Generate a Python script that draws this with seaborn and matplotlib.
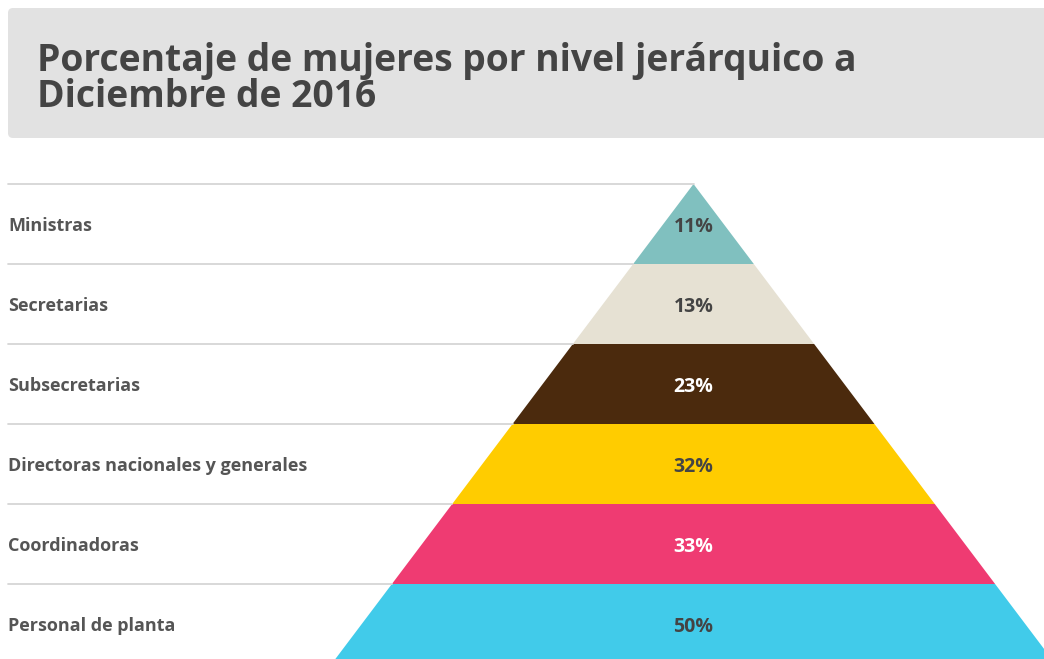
import matplotlib.pyplot as plt
import seaborn as sns
from matplotlib.patches import FancyBboxPatch

# data
niveles = ['Ministras', 'Secretarias', 'Subsecretarias',
           'Directoras nacionales y generales', 'Coordinadoras', 'Personal de planta']
porcentajes = [11, 13, 23, 32, 33, 50]
colores = ['#80c0bf', '#e6e1d3', '#4b2a0d', '#ffcc00', '#ef3b72', '#41cbea']
color_texto = ['#444444', '#444444', '#ffffff', '#444444', '#ffffff', '#444444']
titulo = ['Porcentaje de mujeres por nivel jerárquico a', 'Diciembre de 2016']

sns.set_theme(style='white')
plt.rcParams['font.family'] = ['Open Sans', 'DejaVu Sans']

fig = plt.figure(figsize=(10.44, 6.59), dpi=100)
ax = fig.add_axes([0, 0, 1, 1])
ax.set_xlim(0, 1044)
ax.set_ylim(659, 0)
ax.axis('off')

# title box
caja = FancyBboxPatch((8, 8), 1060, 130, boxstyle='round,pad=0,rounding_size=5',
                      facecolor='#e2e2e2', edgecolor='none')
ax.add_patch(caja)
for k, linea in enumerate(titulo):
    ax.text(37, 71 + k * 36, linea, fontsize=26.8, fontweight='bold',
            color='#444444', va='baseline')

# pyramid geometry
apex_x, apex_y = 693.5, 184
row_h = 80
pendiente = 0.754

for i, (nivel, pct) in enumerate(zip(niveles, porcentajes)):
    y0 = apex_y + i * row_h
    y1 = y0 + row_h
    w0 = (y0 - apex_y) * pendiente
    w1 = (y1 - apex_y) * pendiente
    ax.fill([apex_x - w0, apex_x + w0, apex_x + w1, apex_x - w1],
            [y0, y0, y1, y1], color=colores[i], lw=0)
    ax.plot([8, apex_x - w0], [y0, y0], color='#d6d6d6', lw=1.3)
    ax.text(8, y0 + 47, nivel, fontsize=13, fontweight='bold',
            color='#555555', va='baseline', ha='left')
    ax.text(apex_x, y0 + 47.5, f'{pct}%', fontsize=14, fontweight='bold',
            color=color_texto[i], va='baseline', ha='center')

fig.savefig('out.png', dpi=100)
